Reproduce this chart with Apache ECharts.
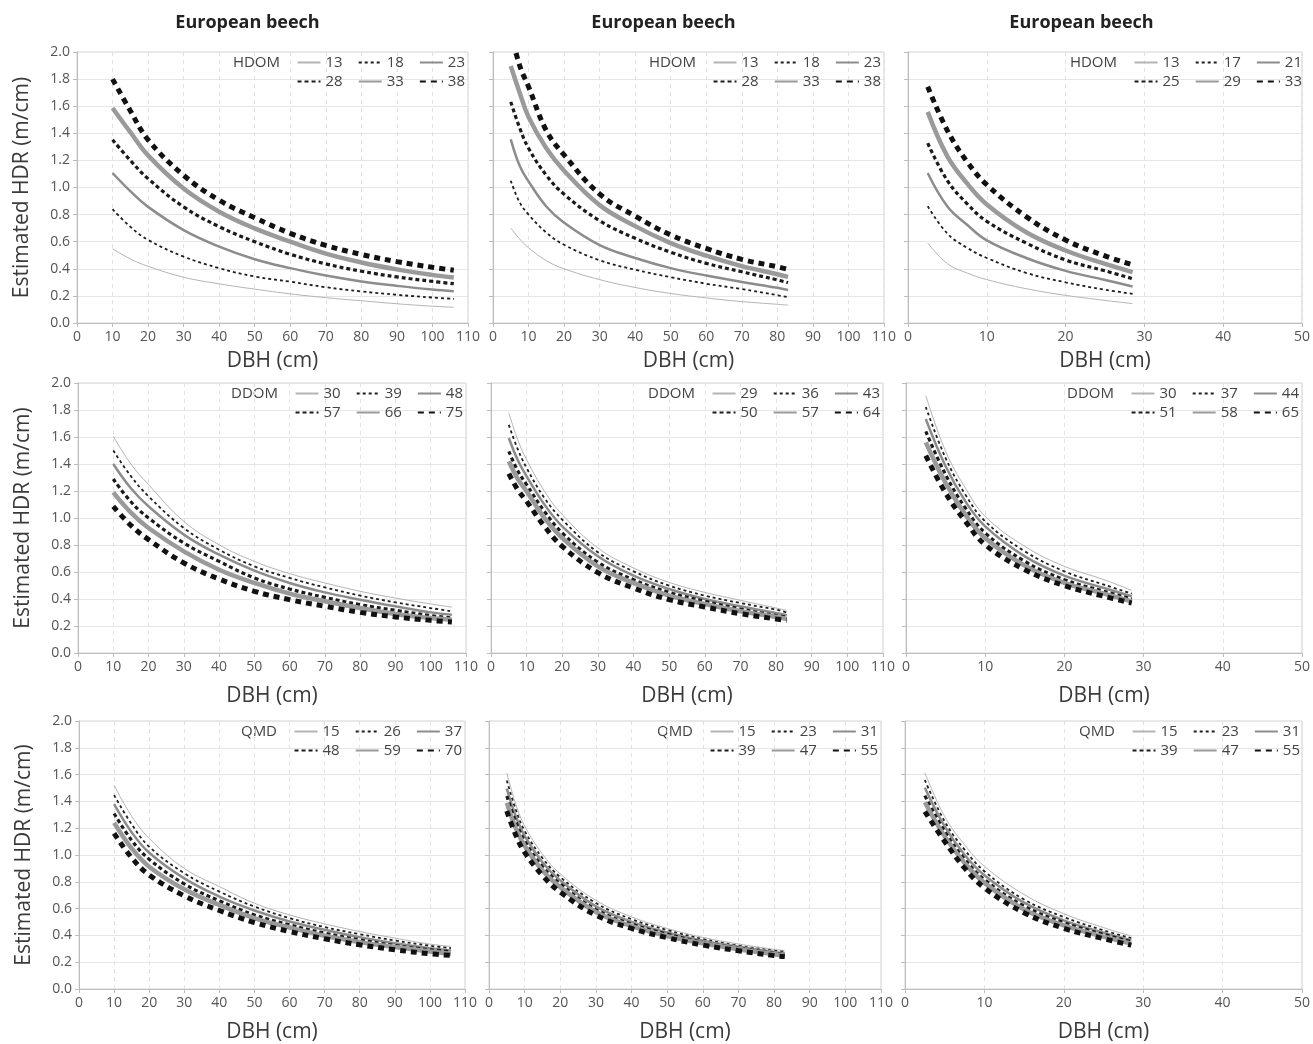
<!DOCTYPE html>
<html><head><meta charset="utf-8">
<script src="https://cdn.jsdelivr.net/npm/echarts@6/dist/echarts.min.js"></script>
<style>html,body{margin:0;padding:0;background:#fff}#c{width:1313px;height:1044px}</style>
</head><body><div id="c"></div><script>
// ---------- DATA ----------
const dbhCol1 = [10, 15, 20, 30, 40, 50, 60, 70, 80, 90, 100, 106];
const dbhCol2 = [5, 7.5, 10, 15, 20, 30, 40, 50, 60, 70, 80, 83];
const dbhCol3 = [2.5, 5, 7.5, 10, 15, 20, 25, 28.5];

const xTicksWide = 110;
const xTicksNarrow = 50;

const speciesTitle = 'European beech';

// Row 1: HDOM
const levels1 = ['13', '18', '23', '28', '33', '38'];
const values1 = [
  [0.547, 0.473, 0.418, 0.338, 0.289, 0.25, 0.215, 0.187, 0.164, 0.142, 0.124, 0.116],
  [0.84, 0.71, 0.613, 0.49, 0.405, 0.343, 0.305, 0.264, 0.233, 0.208, 0.188, 0.178],
  [1.107, 0.973, 0.857, 0.686, 0.564, 0.471, 0.405, 0.35, 0.307, 0.274, 0.247, 0.234],
  [1.352, 1.2, 1.065, 0.857, 0.711, 0.60, 0.507, 0.436, 0.382, 0.34, 0.307, 0.29],
  [1.587, 1.408, 1.237, 0.992, 0.821, 0.698, 0.60, 0.512, 0.447, 0.396, 0.355, 0.335],
  [1.80, 1.567, 1.352, 1.09, 0.906, 0.777, 0.662, 0.573, 0.506, 0.453, 0.411, 0.389]
];
const levels2 = ['13', '18', '23', '28', '33', '38'];
const values2 = [
  [0.70, 0.62, 0.555, 0.46, 0.40, 0.32, 0.262, 0.218, 0.185, 0.158, 0.138, 0.132],
  [1.05, 0.89, 0.80, 0.667, 0.577, 0.463, 0.393, 0.338, 0.29, 0.25, 0.205, 0.19],
  [1.355, 1.16, 1.045, 0.86, 0.74, 0.575, 0.48, 0.405, 0.35, 0.303, 0.26, 0.243],
  [1.632, 1.44, 1.29, 1.09, 0.95, 0.755, 0.625, 0.522, 0.44, 0.378, 0.318, 0.298],
  [1.897, 1.70, 1.52, 1.29, 1.124, 0.87, 0.715, 0.59, 0.497, 0.42, 0.36, 0.34],
  [2.15, 1.90, 1.744, 1.42, 1.24, 0.952, 0.789, 0.65, 0.55, 0.47, 0.415, 0.396]
];
const levels3 = ['13', '17', '21', '25', '29', '33'];
const values3 = [
  [0.59, 0.438, 0.369, 0.32, 0.253, 0.204, 0.167, 0.143],
  [0.861, 0.66, 0.555, 0.48, 0.37, 0.30, 0.246, 0.215],
  [1.107, 0.86, 0.725, 0.61, 0.48, 0.385, 0.318, 0.27],
  [1.327, 1.05, 0.88, 0.75, 0.59, 0.465, 0.385, 0.327],
  [1.558, 1.23, 1.03, 0.875, 0.67, 0.535, 0.436, 0.376],
  [1.744, 1.42, 1.19, 1.02, 0.785, 0.612, 0.495, 0.43]
];
// Row 2: DDOM
const levels4 = ['30', '39', '48', '57', '66', '75'];
const values4 = [
  [1.605, 1.40, 1.247, 0.975, 0.802, 0.679, 0.588, 0.519, 0.457, 0.407, 0.363, 0.34],
  [1.50, 1.31, 1.16, 0.926, 0.765, 0.642, 0.556, 0.486, 0.425, 0.375, 0.333, 0.309],
  [1.40, 1.22, 1.086, 0.877, 0.728, 0.61, 0.519, 0.449, 0.395, 0.346, 0.301, 0.284],
  [1.289, 1.12, 1.0, 0.815, 0.679, 0.556, 0.474, 0.412, 0.358, 0.316, 0.277, 0.259],
  [1.19, 1.04, 0.926, 0.753, 0.617, 0.519, 0.44, 0.383, 0.333, 0.289, 0.259, 0.247],
  [1.086, 0.945, 0.84, 0.667, 0.548, 0.457, 0.395, 0.346, 0.301, 0.267, 0.242, 0.23]
];
const levels5 = ['29', '36', '43', '50', '57', '64'];
const values5 = [
  [1.778, 1.58, 1.432, 1.198, 1.025, 0.778, 0.63, 0.523, 0.449, 0.39, 0.333, 0.316],
  [1.69, 1.51, 1.37, 1.148, 0.988, 0.746, 0.605, 0.499, 0.425, 0.37, 0.321, 0.30],
  [1.593, 1.43, 1.309, 1.099, 0.938, 0.716, 0.573, 0.474, 0.40, 0.346, 0.296, 0.279],
  [1.494, 1.35, 1.247, 1.049, 0.889, 0.672, 0.543, 0.449, 0.383, 0.326, 0.277, 0.265],
  [1.42, 1.29, 1.198, 1.0, 0.852, 0.642, 0.519, 0.425, 0.363, 0.309, 0.267, 0.252],
  [1.328, 1.21, 1.123, 0.938, 0.79, 0.595, 0.481, 0.395, 0.341, 0.291, 0.252, 0.242]
];
const levels6 = ['30', '37', '44', '51', '58', '65'];
const values6 = [
  [1.906, 1.494, 1.222, 1.012, 0.79, 0.642, 0.543, 0.464],
  [1.822, 1.444, 1.173, 0.975, 0.753, 0.605, 0.506, 0.44],
  [1.733, 1.383, 1.123, 0.938, 0.716, 0.573, 0.481, 0.42],
  [1.642, 1.321, 1.074, 0.889, 0.679, 0.543, 0.457, 0.40],
  [1.56, 1.259, 1.025, 0.852, 0.647, 0.519, 0.44, 0.383],
  [1.462, 1.185, 0.975, 0.802, 0.617, 0.499, 0.42, 0.37]
];
// Row 3: QMD
const levels7 = ['15', '26', '37', '48', '59', '70'];
const values7 = [
  [1.521, 1.29, 1.124, 0.90, 0.764, 0.64, 0.553, 0.486, 0.429, 0.38, 0.335, 0.318],
  [1.447, 1.23, 1.062, 0.864, 0.727, 0.615, 0.529, 0.462, 0.409, 0.362, 0.323, 0.305],
  [1.38, 1.17, 1.017, 0.826, 0.69, 0.586, 0.504, 0.442, 0.387, 0.342, 0.305, 0.288],
  [1.31, 1.11, 0.968, 0.784, 0.658, 0.553, 0.479, 0.417, 0.367, 0.325, 0.293, 0.28],
  [1.241, 1.05, 0.913, 0.744, 0.628, 0.529, 0.459, 0.397, 0.35, 0.313, 0.28, 0.263],
  [1.161, 0.98, 0.851, 0.695, 0.586, 0.496, 0.429, 0.375, 0.33, 0.293, 0.263, 0.251]
];
const levels8 = ['15', '23', '31', '39', '47', '55'];
const values8 = [
  [1.612, 1.38, 1.217, 1.007, 0.859, 0.662, 0.538, 0.452, 0.385, 0.336, 0.296, 0.286],
  [1.556, 1.34, 1.18, 0.978, 0.835, 0.642, 0.521, 0.44, 0.373, 0.323, 0.286, 0.277],
  [1.496, 1.29, 1.143, 0.946, 0.81, 0.617, 0.501, 0.422, 0.36, 0.316, 0.277, 0.267],
  [1.44, 1.25, 1.106, 0.914, 0.785, 0.593, 0.484, 0.41, 0.348, 0.304, 0.267, 0.254],
  [1.39, 1.20, 1.069, 0.884, 0.76, 0.575, 0.469, 0.395, 0.341, 0.296, 0.259, 0.247],
  [1.328, 1.15, 1.02, 0.847, 0.723, 0.551, 0.452, 0.383, 0.328, 0.286, 0.249, 0.242]
];
const levels9 = ['15', '23', '31', '39', '47', '55'];
const values9 = [
  [1.614, 1.287, 1.077, 0.916, 0.705, 0.562, 0.458, 0.396],
  [1.559, 1.25, 1.04, 0.879, 0.668, 0.537, 0.438, 0.379],
  [1.502, 1.213, 1.002, 0.849, 0.644, 0.512, 0.421, 0.364],
  [1.443, 1.176, 0.97, 0.817, 0.619, 0.495, 0.408, 0.354],
  [1.394, 1.139, 0.941, 0.792, 0.594, 0.475, 0.391, 0.339],
  [1.324, 1.101, 0.903, 0.755, 0.569, 0.453, 0.376, 0.327]
];
const rowVariables = ['HDOM', 'DDOM', 'QMD'];

// ---------- LAYOUT / STYLE ----------
const W = 1313;
const FONT = "'Open Sans', 'Noto Sans', sans-serif";
const rowTop = [52, 383, 721];
const rowBottom = [323, 653, 989];
const rowNameGap = [28, 33, 33];
const colX = [
  [[77, 468], [493, 884], [908, 1305]],
  [[78, 466], [491, 883], [906, 1302]],
  [[79, 465], [489, 881], [905, 1303]]
];
const lineStyles = [
  { color: '#b4b4b4', width: 1, type: 'solid' },
  { color: '#1e1e1e', width: 1.8, type: [3, 3] },
  { color: '#8c8c8c', width: 2.5, type: 'solid' },
  { color: '#1a1a1a', width: 3.2, type: [4, 3] },
  { color: '#9a9a9a', width: 4.5, type: 'solid' },
  { color: '#111111', width: 5, type: [6, 5] }
];

const panels = [
  { dbh: dbhCol1, xMax: xTicksWide, levels: levels1, values: values1 },
  { dbh: dbhCol2, xMax: xTicksWide, levels: levels2, values: values2 },
  { dbh: dbhCol3, xMax: xTicksNarrow, levels: levels3, values: values3 },
  { dbh: dbhCol1, xMax: xTicksWide, levels: levels4, values: values4 },
  { dbh: dbhCol2, xMax: xTicksWide, levels: levels5, values: values5 },
  { dbh: dbhCol3, xMax: xTicksNarrow, levels: levels6, values: values6 },
  { dbh: dbhCol1, xMax: xTicksWide, levels: levels7, values: values7 },
  { dbh: dbhCol2, xMax: xTicksWide, levels: levels8, values: values8 },
  { dbh: dbhCol3, xMax: xTicksNarrow, levels: levels9, values: values9 }
];

const grid = [], xAxis = [], yAxis = [], series = [], legend = [], graphic = [];
const axisColor = '#bdbdbd';

panels.forEach((p, i) => {
  const r = Math.floor(i / 3), c = i % 3;
  const [gl, gr] = colX[r][c];
  const gt = rowTop[r], gb = rowBottom[r];
  grid.push({ left: gl, top: gt, width: gr - gl, height: gb - gt, show: true, borderColor: '#d2d2d2', borderWidth: 1 });
  xAxis.push({
    gridIndex: i, type: 'value', min: 0, max: p.xMax, interval: 10,
    axisLine: { show: true, onZero: false, lineStyle: { color: axisColor } },
    axisTick: { show: true, length: 4, lineStyle: { color: axisColor } },
    axisLabel: { fontSize: 14, color: '#555', margin: 7, fontFamily: FONT },
    splitLine: { show: true, lineStyle: { type: [4, 4], color: '#e2e2e2' } },
    name: 'DBH (cm)', nameLocation: 'middle', nameGap: rowNameGap[r],
    nameTextStyle: { fontSize: 21, color: '#3a3a3a', fontFamily: FONT }
  });
  yAxis.push({
    gridIndex: i, type: 'value', min: 0, max: 2, interval: 0.2,
    axisLine: { show: true, lineStyle: { color: axisColor } },
    axisTick: { show: true, length: 4, lineStyle: { color: axisColor } },
    axisLabel: { show: c === 0, fontSize: 14, color: '#555', margin: 7, fontFamily: FONT, formatter: v => v.toFixed(1) },
    splitLine: { show: true, lineStyle: { type: 'solid', color: '#e6e6e6' } },
    name: c === 0 ? 'Estimated HDR (m/cm)' : '', nameLocation: 'middle', nameGap: 44,
    nameTextStyle: { fontSize: 21, color: '#3a3a3a', fontFamily: FONT }
  });
  const names = p.levels.map(l => 'P' + i + '|' + l);
  p.values.forEach((vals, k) => {
    const st = lineStyles[k];
    series.push({
      type: 'line', name: names[k], xAxisIndex: i, yAxisIndex: i,
      data: p.dbh.map((d, j) => [d, vals[j]]),
      smooth: 0.4, symbol: 'none', showSymbol: false, silent: true,
      color: st.color,
      lineStyle: { color: st.color, width: st.width, type: st.type, cap: 'butt' },
      itemStyle: { color: st.color }
    });
  });
  const legBase = {
    right: W - (gr - 3), itemWidth: 23, itemHeight: 14, itemGap: 15, padding: 0,
    selectedMode: false, formatter: n => n.split('|')[1],
    itemStyle: { color: 'rgba(0,0,0,0)', borderColor: 'rgba(0,0,0,0)', borderWidth: 0, opacity: 0 },
    textStyle: { fontSize: 15, color: '#444', fontFamily: FONT }
  };
  legend.push(Object.assign({}, legBase, { top: gt + 3, data: names.slice(0, 3) }));
  legend.push(Object.assign({}, legBase, { top: gt + 22, data: names.slice(3, 6) }));
  graphic.push({
    type: 'text', x: gr - 188, y: gt + 11,
    style: { text: rowVariables[r], align: 'right', verticalAlign: 'middle', fontSize: 15, fontFamily: FONT, fill: '#444' }
  });
  if (r === 0) {
    graphic.push({
      type: 'text', x: (gl + gr) / 2 - 25, y: 23,
      style: { text: speciesTitle, align: 'center', verticalAlign: 'middle', fontSize: 18, fontWeight: 'bold', fontFamily: FONT, fill: '#222' }
    });
  }
});

const chart = echarts.init(document.getElementById('c'), null, { renderer: 'canvas' });
chart.setOption({ animation: false, backgroundColor: '#fff', grid, xAxis, yAxis, series, legend, graphic });
</script></body></html>
